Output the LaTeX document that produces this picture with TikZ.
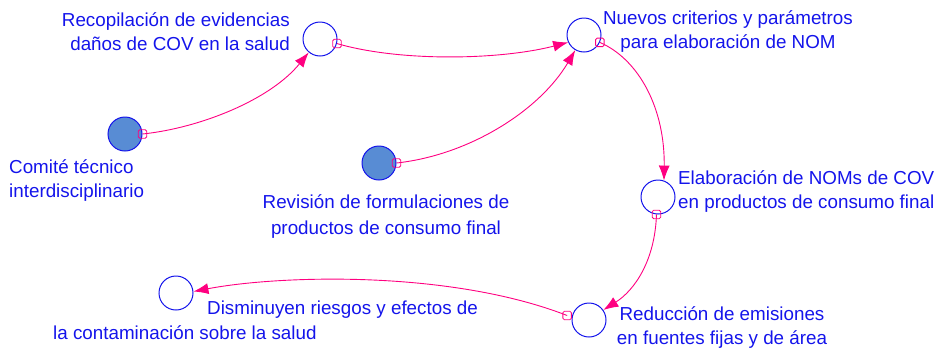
\documentclass[tikz,border=0pt]{standalone}
\usepackage{fontspec}
\setmainfont{Liberation Sans}
\usetikzlibrary{arrows.meta}
\definecolor{vblue}{RGB}{20,20,235}
\definecolor{vpink}{RGB}{255,0,128}
\definecolor{vfill}{RGB}{88,140,212}

\begin{document}
\begin{tikzpicture}[
  x=1pt, y=-1pt,
  var/.style={circle, draw=vblue, line width=1pt, minimum size=34pt, inner sep=0pt},
  const/.style={var, fill=vfill},
  lbl/.style={text=vblue, font=\fontsize{18.8}{24}\selectfont, inner sep=0pt},
  handle/.style={rectangle, rounded corners=1.5pt, draw=vpink, line width=0.8pt, minimum size=8.5pt, inner sep=0pt},
  link/.style={-{Latex[length=15pt, width=11pt]}, vpink, line width=0.9pt}
]
  \useasboundingbox (0,0) rectangle (934,349);

  % variables
  \node[const] (comite) at (125,134) {};
  \node[var] (recop) at (320,39) {};
  \node[const] (revision) at (379,163) {};
  \node[var] (nuevos) at (584,35) {};
  \node[var] (elab) at (658,197) {};
  \node[var] (reduc) at (589,320) {};
  \node[var] (dismin) at (176,293) {};

  % labels
  \node[lbl, align=right, anchor=east] (recopT) at (290,32) {Recopilación de evidencias\\daños de COV en la salud};
  \node[lbl, align=center] (nuevosT) at (728,32) {Nuevos criterios y parámetros\\para elaboración de NOM};
  \node[lbl, align=left, anchor=west] (comiteT) at (9,181) {Comité técnico\\interdisciplinario};
  \node[lbl, align=center] (revisionT) at (386,217) {Revisión de formulaciones de\\[2pt]productos de consumo final};
  \node[lbl, align=left, anchor=west] (elabT) at (678,192) {Elaboración de NOMs de COV\\en productos de consumo final};
  \node[lbl, align=center] (reducT) at (722,328) {Reducción de emisiones\\en fuentes fijas y de área};
  \node[lbl, anchor=west] (dismT1) at (207,310) {Disminuyen riesgos y efectos de};
  \node[lbl, anchor=west] (dismT2) at (53,333) {la contaminación sobre la salud};

  % link handles
  \node[handle] (h1) at (comite.east) {};
  \node[handle] (h2) at (recop.-15) {};
  \node[handle] (h3) at (revision.east) {};
  \node[handle] (h4) at (nuevos.-25) {};
  \node[handle] (h5) at (elab.-95) {};
  \node[handle] (h6) at ([xshift=-5pt]reduc.165) {};

  % links
  \draw[link] (h1.center) .. controls (200,128) and (270,100) .. (recop.230);
  \draw[link] (h2.center) .. controls (400,62) and (500,60) .. (nuevos.205);
  \draw[link] (h3.center) .. controls (470,155) and (540,110) .. (nuevos.240);
  \draw[link] (h4.center) .. controls (640,60) and (665,110) .. (elab.70);
  \draw[link] (h5.center) .. controls (655,260) and (635,290) .. (reduc.35);
  \draw[link] (h6.center) .. controls (450,270) and (280,275) .. (dismin.5);
\end{tikzpicture}
\end{document}
